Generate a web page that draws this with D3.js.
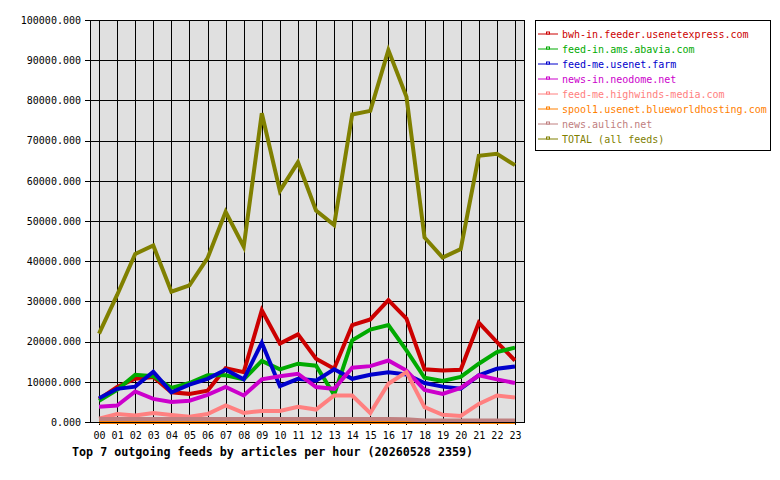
<!DOCTYPE html>
<html>
<head>
<meta charset="utf-8">
<script src="https://cdn.jsdelivr.net/npm/d3@7"></script>
<style>
  body { margin: 0; background: #fff; }
  text { font-family: "DejaVu Sans Mono", monospace; }
</style>
</head>
<body>
<svg id="chart"></svg>
<script>
// hours on the x axis
var hours = d3.range(24)
var hourLabels = hours.map((h) => (h < 10 ? "0" : "") + h)
var yTicks = d3.range(0, 100001, 10000)

var feeds = ["bwh-in.feeder.usenetexpress.com", "feed-in.ams.abavia.com", "feed-me.usenet.farm",
  "news-in.neodome.net", "feed-me.highwinds-media.com", "spool1.usenet.blueworldhosting.com",
  "news.aulich.net", "TOTAL (all feeds)"]
var colors = ["#cc0000", "#00aa00", "#0000cc", "#cc00cc", "#ff8080", "#ff8000", "#c08080", "#808000"]

// articles per hour
var bwhIn = [5700, 8700, 10750, 11200, 7400, 7000, 7800, 13400, 12400, 27800, 19500, 21800,
  15750, 13250, 24100, 25500, 30300, 25750, 13100, 12800, 13000, 24700, 19900, 15300]
var abavia = [5300, 8000, 11750, 11400, 8500, 9700, 11600, 11600, 10600, 15200, 13100, 14500,
  14000, 6750, 20300, 23000, 24100, 17800, 11000, 10200, 11200, 14500, 17400, 18500]
var usenetFarm = [5900, 8250, 8800, 12500, 7400, 9300, 10750, 13000, 10600, 19700, 8900, 10750,
  10300, 13100, 10750, 11750, 12400, 11800, 9700, 8800, 8300, 11600, 13250, 13800]
var neodome = [3800, 4100, 7600, 5750, 5000, 5300, 6750, 8700, 6600, 10600, 11400, 12000,
  8700, 8250, 13500, 13900, 15300, 12800, 8000, 7000, 8500, 11600, 10600, 9700]
var highwinds = [800, 2000, 1600, 2250, 1750, 1300, 2000, 4100, 2250, 2750, 2750, 3800,
  3100, 6600, 6600, 2200, 9500, 12400, 3700, 1800, 1500, 4500, 6600, 6100]
var spool1 = [0, 0, 0, 0, 0, 0, 0, 0, 0, 0, 0, 0, 0, 0, 0, 0, 0, 0, 0, 0, 0, 0, 0, 0]
var aulich = [750, 750, 750, 750, 750, 750, 750, 750, 750, 750, 750, 750,
  750, 750, 750, 750, 750, 700, 400, 400, 400, 400, 400, 400]
var total = [22000, 31600, 41800, 43900, 32400, 34000, 40750, 52300, 43600, 76800, 57500, 64600,
  52600, 49000, 76500, 77400, 92500, 80900, 45900, 40900, 43000, 66200, 66700, 63900]

var series = [bwhIn, abavia, usenetFarm, neodome, highwinds, spool1, aulich, total]

const margin = { top: 20, right: 256, bottom: 58, left: 90 };
const width = 780 - margin.left - margin.right;
const height = 480 - margin.top - margin.bottom;

const root = d3.select("#chart").attr("width", 780).attr("height", 480)
const svg = root.append("g").attr("transform", `translate(${margin.left}, ${margin.top})`);

const x = d3.scaleLinear().domain([-0.5, 23.5]).range([0, width]);
const y = d3.scaleLinear().domain([0, 100000]).range([height, 0]);

svg.append("rect")
  .attr("width", width).attr("height", height)
  .attr("fill", "#e0e0e0");

// grid
svg.append("g").selectAll("line.v").data(hours).join("line")
  .attr("x1", (d) => Math.round(x(d)) + 0.5).attr("x2", (d) => Math.round(x(d)) + 0.5)
  .attr("y1", 0).attr("y2", height)
  .attr("stroke", "#000").attr("stroke-width", 1);
svg.append("g").selectAll("line.h").data(yTicks).join("line")
  .attr("x1", 0).attr("x2", width)
  .attr("y1", (d) => Math.round(y(d)) + 0.5).attr("y2", (d) => Math.round(y(d)) + 0.5)
  .attr("stroke", "#000").attr("stroke-width", 1);

// axes
const yAxis = svg.append("g")
  .call(d3.axisLeft(y).tickValues(yTicks).tickSize(5).tickPadding(4).tickFormat((d) => d.toFixed(3)));
const xAxis = svg.append("g")
  .attr("transform", `translate(0, ${height})`)
  .call(d3.axisBottom(x).tickValues(hours).tickSize(3).tickPadding(7).tickFormat((d, i) => hourLabels[i]));
[yAxis, xAxis].forEach((a) => {
  a.select(".domain").remove();
  a.selectAll("line").attr("stroke", "#000").attr("shape-rendering", "crispEdges");
  a.selectAll("text").attr("fill", "#000").style("font-size", "10px")
    .style("font-family", "'DejaVu Sans Mono', monospace");
});

// series lines
const line = d3.line().x((d, i) => x(i)).y((d) => y(d));
svg.selectAll("path.series").data(series).join("path")
  .attr("class", "series")
  .attr("d", line)
  .attr("fill", "none")
  .attr("stroke", (d, i) => colors[i])
  .attr("stroke-width", 4)
  .attr("stroke-linejoin", "miter");

svg.append("rect")
  .attr("x", 0.5).attr("y", 0.5).attr("width", width).attr("height", height)
  .attr("fill", "none").attr("stroke", "#000").attr("stroke-width", 1);

// title
root.append("text")
  .attr("x", 72).attr("y", 456)
  .style("font-size", "11.7px").style("font-weight", "bold")
  .text("Top 7 outgoing feeds by articles per hour (20260528 2359)");

// legend
const legend = root.append("g").attr("transform", "translate(535, 20)");
legend.append("rect")
  .attr("x", 0.5).attr("y", 0.5).attr("width", 235).attr("height", 130)
  .attr("fill", "#fff").attr("stroke", "#000");
const item = legend.selectAll("g.item").data(feeds).join("g")
  .attr("transform", (d, i) => `translate(0, ${13.5 + i * 15})`);
item.append("line")
  .attr("x1", 3).attr("x2", 23).attr("y1", 0.5).attr("y2", 0.5)
  .attr("stroke", (d, i) => colors[i]);
item.append("rect")
  .attr("x", 11.5).attr("y", -1.5).attr("width", 3).attr("height", 2)
  .attr("fill", "#fff").attr("stroke", (d, i) => colors[i]);
item.append("text")
  .attr("x", 27).attr("y", 4)
  .style("font-size", "10px")
  .attr("fill", (d, i) => colors[i])
  .text((d) => d);
</script>
</body>
</html>
